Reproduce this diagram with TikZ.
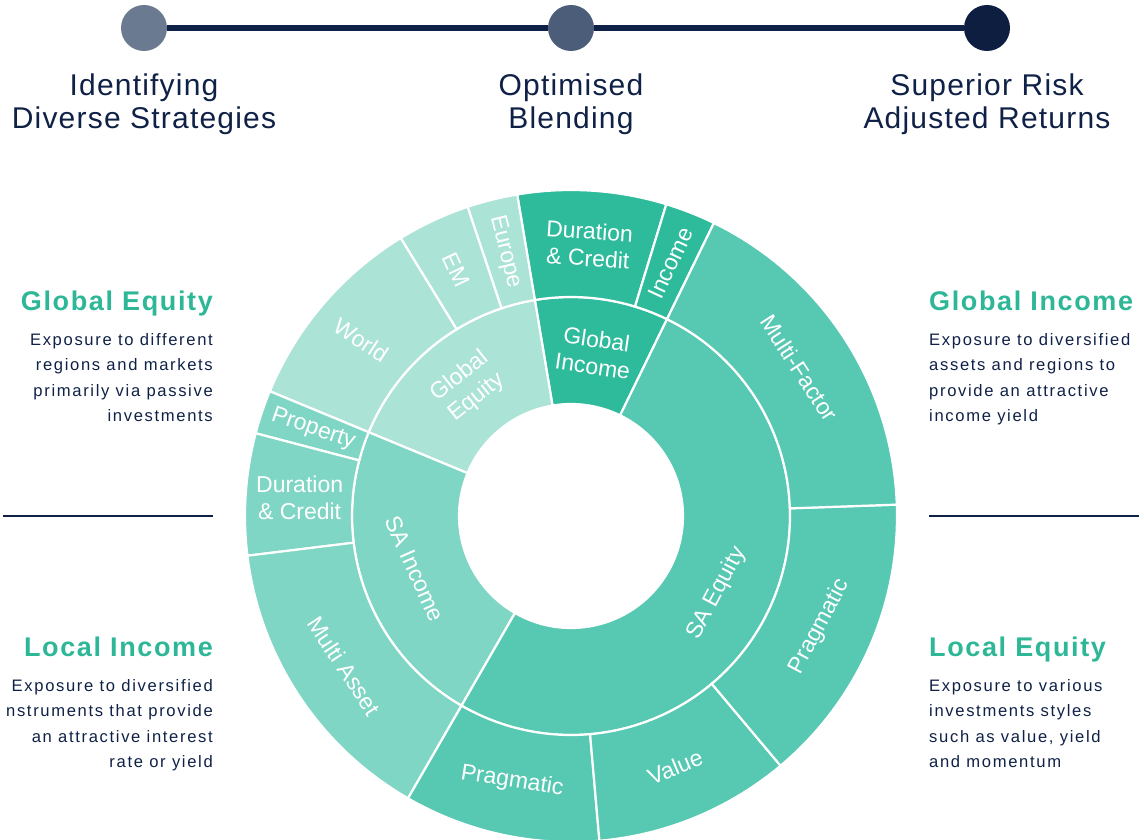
\documentclass[tikz,border=0pt]{standalone}
\usepackage{fontspec}
\setmainfont{Liberation Sans}
\newfontfamily\titlefont[LetterSpace=4]{Liberation Sans}
\newfontfamily\headfont[LetterSpace=6]{Liberation Sans}
\newfontfamily\bodyfont[LetterSpace=10]{Liberation Sans}
\definecolor{navy}{HTML}{0F2146}
\definecolor{headteal}{HTML}{2DB797}
\definecolor{dotA}{HTML}{6A7A90}
\definecolor{dotB}{HTML}{4B5D78}
\definecolor{dotC}{HTML}{0E1E40}
\definecolor{geC}{HTML}{ACE3D7}
\definecolor{siC}{HTML}{80D6C5}
\definecolor{seC}{HTML}{57C8B2}
\definecolor{giC}{HTML}{2EBB9C}
\newcommand\ringseg[5]{\filldraw[fill=#1, draw=white, line width=2.2pt] (#2:#4pt) arc[start angle=#2, end angle=#3, radius=#4pt] -- (#3:#5pt) arc[start angle=#3, end angle=#2, radius=#5pt] -- cycle;}
\tikzset{
  dot/.style={circle, inner sep=0pt, minimum size=46pt},
  ttl/.style={font=\titlefont\fontsize{30}{33}\selectfont, text=navy, inner sep=0pt, anchor=base},
  head/.style={font=\headfont\bfseries\fontsize{27}{30}\selectfont, text=headteal, inner sep=0pt},
  body/.style={font=\bodyfont\fontsize{16.6}{20}\selectfont, text=navy, inner sep=0pt},
  lbl/.style={font=\fontsize{23}{27}\selectfont, text=white, align=center, inner sep=0pt},
  sepline/.style={draw=navy, line width=2pt}
}
\begin{document}
\begin{tikzpicture}[x=1pt, y=1pt]
\useasboundingbox (0,0) rectangle (1144,-840);
% timeline
\node[dot, fill=dotA] (d1) at (144,-28) {};
\node[dot, fill=dotB] (d2) at (571,-28) {};
\node[dot, fill=dotC] (d3) at (987,-28) {};
\draw[navy, line width=6pt] (d1) -- (d2);
\draw[navy, line width=6pt] (d2) -- (d3);
\node[ttl] (t1a) at (144,-96) {Identifying};
\node[ttl] (t1b) at (144,-129) {Diverse Strategies};
\node[ttl] (t2a) at (571,-96) {Optimised};
\node[ttl] (t2b) at (571,-129) {Blending};
\node[ttl] (t3a) at (987,-96) {Superior Risk};
\node[ttl] (t3b) at (987,-129) {Adjusted Returns};
% side texts left
\node[head, anchor=base east] (h1) at (213,-310) {Global Equity};
\foreach \t [count=\i] in {Exposure to different, regions and markets, primarily via passive, investments}
  \node[body, anchor=base east] (b1\i) at (213,{-345-25.6*(\i-1)}) {\t};
\node[head, anchor=base east] (h2) at (213,-656) {Local Income};
\foreach \t [count=\i] in {Exposure to diversified, nstruments that provide, an attractive interest, rate or yield}
  \node[body, anchor=base east] (b2\i) at (213,{-691-25.5*(\i-1)}) {\t};
% side texts right
\node[head, anchor=base west] (h3) at (929,-310) {Global Income};
\foreach \t [count=\i] in {Exposure to diversified, assets and regions to, provide an attractive, income yield}
  \node[body, anchor=base west] (b3\i) at (929,{-345-25.6*(\i-1)}) {\t};
\node[head, anchor=base west] (h4) at (929,-656) {Local Equity};
\foreach \t [count=\i] in {Exposure to various, investments styles, {such as value, yield}, and momentum}
  \node[body, anchor=base west] (b4\i) at (929,{-691-25.5*(\i-1)}) {\t};
% separators
\coordinate (s1a) at (3,-516); \coordinate (s1b) at (213,-516);
\coordinate (s2a) at (929,-516); \coordinate (s2b) at (1139,-516);
\draw[sepline] (s1a) -- (s1b);
\draw[sepline] (s2a) -- (s2b);
% sunburst
\begin{scope}[shift={(571,-516)}]
  % inner ring
  \ringseg{giC}{64}{99.5}{112}{219}
  \ringseg{geC}{99.5}{157.5}{112}{219}
  \ringseg{siC}{157.5}{240}{112}{219}
  \ringseg{seC}{240}{424}{112}{219}
  % outer ring
  \ringseg{giC}{73}{99.5}{219}{326}
  \ringseg{giC}{64}{73}{219}{326}
  \ringseg{geC}{99.5}{108.5}{219}{326}
  \ringseg{geC}{108.5}{121.5}{219}{326}
  \ringseg{geC}{121.5}{157.5}{219}{326}
  \ringseg{siC}{157.5}{165.3}{219}{326}
  \ringseg{siC}{165.3}{187}{219}{326}
  \ringseg{siC}{187}{240}{219}{326}
  \ringseg{seC}{240}{275}{219}{326}
  \ringseg{seC}{275}{310}{219}{326}
  \ringseg{seC}{310}{362}{219}{326}
  \ringseg{seC}{362}{424}{219}{326}
  % inner labels
  \node[lbl, rotate=-8.25] (lgi) at (81.75:165pt) {Global\\Income};
  \node[lbl, rotate=38.5] (lge) at (128.5:165pt) {Global\\Equity};
  \node[lbl, rotate=-66] (lsi) at (198.75:165pt) {SA Income};
  \node[lbl, rotate=62] (lse) at (-28:165pt) {SA Equity};
  % outer labels
  \node[lbl, rotate=-3.75] (odc) at (86.25:272pt) {Duration\\\& Credit};
  \node[lbl, rotate=65] (oin) at (68.5:272pt) {Income};
  \node[lbl, rotate=-57] (omf) at (33:272pt) {Multi-Factor};
  \node[lbl, rotate=62] (opr) at (-24:272pt) {Pragmatic};
  \node[lbl, rotate=22.5] (ova) at (-67.5:272pt) {Value};
  \node[lbl, rotate=-9] (opb) at (-102.5:272pt) {Pragmatic};
  \node[lbl, rotate=-56.5] (oma) at (213.5:272pt) {Multi Asset};
  \node[lbl] (odl) at (176.15:272pt) {Duration\\\& Credit};
  \node[lbl, rotate=-19] (opp) at (161.4:272pt) {Property};
  \node[lbl, rotate=-33] (owo) at (140:274pt) {World};
  \node[lbl, rotate=-65] (oem) at (115:272pt) {EM};
  \node[lbl, rotate=-76] (oeu) at (104:272pt) {Europe};
\end{scope}
\end{tikzpicture}
\end{document}
